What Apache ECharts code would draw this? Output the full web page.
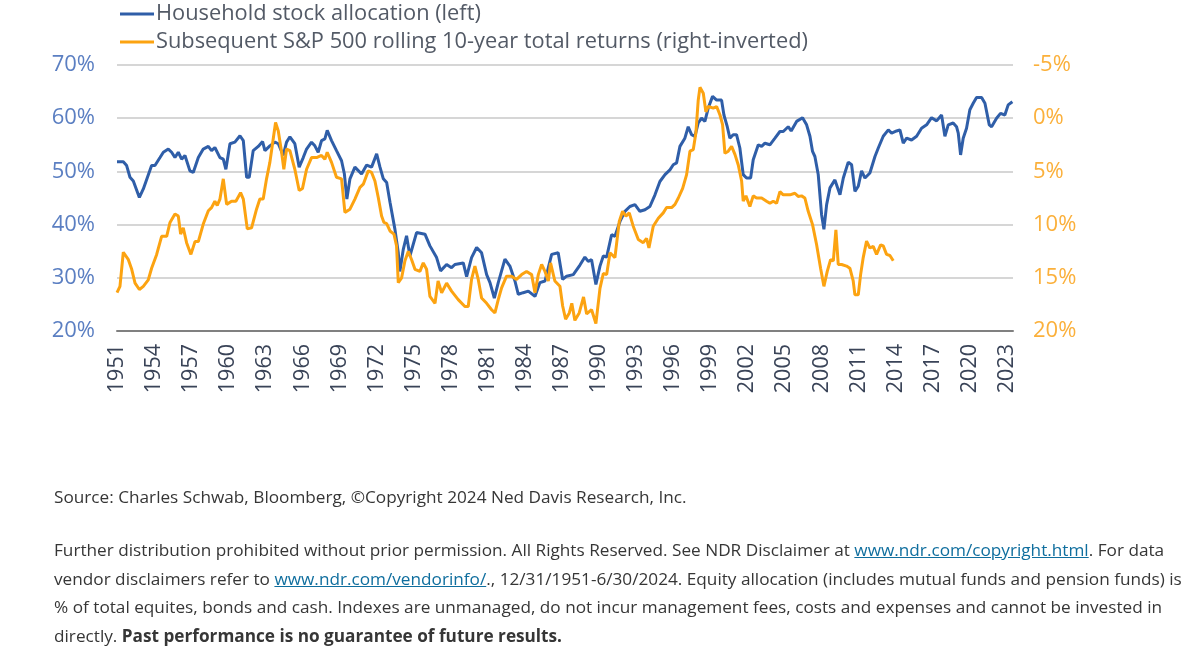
<!DOCTYPE html>
<html>
<head>
<meta charset="utf-8">
<script src="https://cdn.jsdelivr.net/npm/echarts@6/dist/echarts.min.js"></script>
<style>
  html, body { margin: 0; padding: 0; background: #ffffff; }
  #chart { position: absolute; left: 0; top: 0; width: 1189px; height: 652px; }
  .foot { position: absolute; left: 54px; font-family: "Open Sans", sans-serif; font-size: 17.2px; color: #363636; line-height: 28.5px; white-space: nowrap; }
  .foot a { color: #0f6e9e; text-decoration: underline; }
</style>
</head>
<body>
<div id="chart"></div>
<div class="foot" style="top:483px;">Source: Charles Schwab, Bloomberg, ©Copyright 2024 Ned Davis Research, Inc.</div>
<div class="foot" style="top:536px;">Further distribution prohibited without prior permission. All Rights Reserved. See NDR Disclaimer at <a>www.ndr.com/copyright.html</a>. For data<br>vendor disclaimers refer to <a>www.ndr.com/vendorinfo/</a>., 12/31/1951-6/30/2024. Equity allocation (includes mutual funds and pension funds) is<br>% of total equites, bonds and cash. Indexes are unmanaged, do not incur management fees, costs and expenses and cannot be invested in<br>directly. <b>Past performance is no guarantee of future results.</b></div>
<script>
// Household stock allocation (left axis, %)
const blueYears = [1951.0,1951.51,1951.78,1952.05,1952.32,1952.81,1953.13,1953.8,1954.07,1954.48,1954.75,1955.15,1955.42,1955.69,1955.96,1956.23,1956.5,1956.9,1957.17,1957.58,1957.98,1958.39,1958.65,1958.92,1959.33,1959.6,1959.81,1960.14,1960.54,1960.95,1961.22,1961.49,1961.7,1962.02,1962.43,1962.78,1962.97,1963.37,1963.78,1964.05,1964.45,1964.72,1964.99,1965.39,1965.74,1966.07,1966.34,1966.74,1967.01,1967.28,1967.55,1967.82,1968.01,1968.36,1968.76,1969.17,1969.4,1969.6,1969.85,1970.25,1970.79,1971.2,1971.6,1972.01,1972.28,1972.55,1972.82,1973.09,1973.49,1973.76,1973.89,1974.16,1974.43,1974.7,1975.24,1975.92,1976.32,1976.86,1977.18,1977.67,1978.07,1978.34,1979.02,1979.29,1979.69,1980.1,1980.5,1980.91,1981.18,1981.53,1981.85,1982.39,1982.79,1983.2,1983.47,1983.87,1984.28,1984.82,1985.22,1985.63,1986.17,1986.7,1987.06,1987.38,1987.92,1988.46,1988.86,1989.13,1989.4,1989.75,1990.08,1990.35,1990.62,1991.02,1991.29,1991.7,1992.1,1992.5,1992.91,1993.31,1993.72,1994.12,1994.53,1994.93,1995.34,1995.74,1996.01,1996.28,1996.55,1996.95,1997.22,1997.49,1997.76,1998.03,1998.3,1998.57,1998.84,1999.19,1999.52,1999.92,2000.11,2000.38,2000.59,2000.86,2001.13,2001.4,2001.67,2001.94,2002.27,2002.48,2002.89,2003.16,2003.43,2003.83,2004.24,2004.64,2004.91,2005.31,2005.55,2005.99,2006.47,2006.8,2007.07,2007.28,2007.47,2007.74,2008.01,2008.2,2008.42,2008.69,2009.09,2009.5,2009.77,2010.17,2010.44,2010.71,2010.98,2011.25,2011.52,2011.92,2012.33,2012.6,2013.0,2013.41,2013.68,2014.08,2014.35,2014.62,2014.89,2015.29,2015.7,2016.1,2016.51,2016.91,2017.32,2017.72,2017.99,2018.26,2018.66,2018.93,2019.07,2019.26,2019.47,2019.74,2020.01,2020.28,2020.55,2020.96,2021.23,2021.58,2021.77,2022.17,2022.49,2022.84,2023.11,2023.45];
const blueVals = [51.8,51.8,51.1,48.9,48.2,45.1,46.7,51.1,51.1,52.6,53.6,54.2,53.6,52.6,53.6,52.3,53.0,50.1,49.8,52.6,54.2,54.7,53.9,54.5,52.6,52.3,50.4,55.2,55.5,56.7,55.8,48.9,48.9,53.9,54.7,55.6,53.9,54.8,55.5,55.2,53.0,55.5,56.5,55.2,50.8,52.6,54.2,55.5,54.8,53.6,55.8,56.1,57.7,55.8,53.9,52.0,49.5,44.8,48.6,50.8,49.5,51.2,50.8,53.3,50.8,48.6,47.9,44.2,39.1,34.7,31.2,35.3,37.9,34.1,38.5,38.2,36.0,33.8,31.3,32.5,31.9,32.5,32.8,30.2,33.8,35.7,34.7,30.6,29.1,26.2,29.1,33.5,32.2,29.4,26.9,27.2,27.5,26.5,29.1,29.4,34.4,34.7,29.7,30.3,30.6,32.4,33.9,33.1,33.4,28.75,32.2,34.1,33.9,38.1,37.8,40.6,42.5,43.4,43.75,42.5,42.8,43.4,45.6,48.1,49.4,50.3,51.25,51.6,54.7,56.25,58.4,56.9,56.6,59.1,60.0,59.4,61.9,64.1,63.4,63.4,60.6,58.4,56.25,56.9,56.9,54.4,49.4,48.75,48.75,52.2,55.0,54.7,55.3,55.0,56.25,57.5,57.5,58.4,57.6,59.4,60.1,58.75,56.6,53.75,52.8,49.4,41.9,39.1,43.75,46.9,48.4,45.6,48.75,51.75,51.25,46.25,47.2,50.1,48.75,49.7,52.8,54.4,56.6,57.8,57.2,57.6,57.8,55.3,56.25,55.9,56.6,58.1,58.75,60.1,59.5,60.6,56.6,58.75,59.1,58.4,57.2,53.1,56.25,58.1,61.6,62.8,63.9,63.9,62.8,58.75,58.4,60.0,60.9,60.6,62.5,63.1];

// Subsequent S&P 500 rolling 10-year total returns (right axis, inverted, %)
const orangeYears = [1951.0,1951.24,1951.51,1951.92,1952.19,1952.46,1952.81,1953.13,1953.53,1953.8,1954.21,1954.61,1955.02,1955.29,1955.69,1955.96,1956.15,1956.36,1956.63,1956.98,1957.31,1957.58,1957.98,1958.39,1958.65,1958.92,1959.11,1959.33,1959.6,1959.87,1960.27,1960.62,1961.0,1961.22,1961.54,1961.89,1962.29,1962.56,1962.83,1963.1,1963.37,1963.64,1963.83,1964.05,1964.32,1964.5,1964.72,1964.99,1965.39,1965.74,1966.01,1966.34,1966.74,1967.15,1967.55,1967.82,1968.01,1968.36,1968.76,1969.17,1969.44,1969.85,1970.25,1970.66,1970.93,1971.33,1971.6,1971.87,1972.14,1972.41,1972.6,1972.82,1973.09,1973.41,1973.62,1973.76,1974.03,1974.3,1974.57,1974.84,1975.11,1975.51,1975.78,1976.05,1976.32,1976.73,1976.98,1977.27,1977.67,1978.07,1978.61,1979.15,1979.42,1979.69,1979.96,1980.23,1980.5,1980.91,1981.31,1981.58,1981.85,1982.12,1982.52,1982.93,1983.33,1983.74,1984.14,1984.55,1984.82,1985.09,1985.36,1985.63,1985.9,1986.08,1986.43,1986.84,1987.06,1987.3,1987.6,1987.8,1988.05,1988.4,1988.75,1989.0,1989.4,1989.75,1990.08,1990.35,1990.62,1990.89,1991.29,1991.64,1991.91,1992.18,1992.45,1992.77,1993.18,1993.58,1993.85,1994.04,1994.39,1994.8,1995.2,1995.47,1995.88,1996.15,1996.42,1996.77,1997.09,1997.36,1997.63,1997.84,1998.03,1998.17,1998.44,1998.65,1998.84,1999.25,1999.52,1999.79,2000.0,2000.19,2000.46,2000.73,2001.0,2001.27,2001.54,2001.67,2001.89,2002.21,2002.48,2002.75,2003.16,2003.56,2003.83,2004.1,2004.37,2004.64,2004.91,2005.45,2005.85,2006.12,2006.39,2006.66,2006.93,2007.28,2007.61,2007.93,2008.2,2008.47,2008.74,2008.96,2009.17,2009.36,2009.63,2010.03,2010.3,2010.57,2010.71,2010.98,2011.17,2011.38,2011.65,2011.92,2012.19,2012.46,2012.79,2013.0,2013.27,2013.54,2013.81];
const orangeVals = [16.4,15.8,12.6,13.3,14.2,15.5,16.1,15.8,15.2,14.1,12.8,11.1,11.1,9.8,9.0,9.2,10.9,10.3,11.7,12.8,11.6,11.6,9.95,8.7,8.4,7.8,8.2,7.6,5.7,8.1,7.8,7.8,7.0,7.6,10.4,10.3,8.55,7.6,7.6,5.7,4.15,1.95,0.4,1.2,3.2,4.8,2.9,3.05,4.8,6.8,6.6,4.8,3.7,3.7,3.5,3.85,3.2,4.15,5.55,5.7,8.85,8.55,7.6,6.5,6.2,4.95,5.1,5.9,7.45,9.2,9.8,9.9,10.6,10.9,12.0,15.45,15.0,13.4,12.5,13.3,14.2,14.4,13.6,14.2,16.75,17.4,15.3,16.4,15.5,16.25,17.05,17.7,17.7,15.15,13.9,15.15,16.9,17.4,18.0,18.3,17.05,15.95,14.85,14.85,15.15,14.7,14.4,14.7,16.4,14.7,13.75,14.4,15.3,13.6,15.3,15.8,17.65,18.9,18.3,17.4,19.0,18.3,16.8,18.4,18.0,19.3,16.0,14.6,14.7,12.65,13.1,9.7,8.75,9.2,8.9,10.15,11.4,11.7,11.3,12.2,10.15,9.4,8.9,8.4,8.4,8.1,7.5,6.6,5.3,3.1,2.95,1.4,-1.7,-2.9,-2.35,-0.6,-1.1,-0.95,-1.1,-0.3,0.6,3.3,3.1,2.65,3.4,4.4,5.9,7.8,7.3,8.3,7.3,7.5,7.5,7.8,8.0,7.8,8.0,6.9,7.2,7.2,7.05,7.35,7.3,7.5,8.75,10.0,11.9,14.1,15.8,14.4,13.3,13.4,10.5,13.75,13.75,13.9,14.1,15.3,16.6,16.6,14.7,13.1,11.55,12.2,12.05,12.8,11.9,12.0,12.8,12.9,13.4];

const seriesNames = ['Household stock allocation (left)', 'Subsequent S&P 500 rolling 10-year total returns (right-inverted)'];
const xTickYears = [1951,1954,1957,1960,1963,1966,1969,1972,1975,1978,1981,1984,1987,1990,1993,1996,1999,2002,2005,2008,2011,2014,2017,2020,2023];

const FONT = '"Open Sans", "Liberation Sans", sans-serif';
const chart = echarts.init(document.getElementById('chart'), null, { renderer: 'canvas' });
chart.setOption({
  animation: false,
  backgroundColor: '#ffffff',
  textStyle: { fontFamily: FONT },
  legend: {
    orient: 'vertical', left: 120, top: 2, padding: 0,
    icon: 'rect', itemWidth: 34, itemHeight: 3, itemGap: 4,
    textStyle: { fontSize: 21.8, color: '#535a66', lineHeight: 24, fontFamily: FONT, padding: [0, 0, 0, -3] },
    data: seriesNames
  },
  grid: { left: 117, right: 176, top: 65, bottom: 321, containLabel: false },
  xAxis: {
    type: 'value', min: 1951, max: 2023.5, interval: 3,
    axisLine: { show: true, onZero: false, lineStyle: { color: '#808080', width: 2 } },
    axisTick: { show: false },
    splitLine: { show: false },
    axisLabel: {
      rotate: 90, margin: 13, fontSize: 21.5, color: '#3a4458', fontFamily: FONT,
      showMaxLabel: false,
      formatter: v => xTickYears.includes(v) ? String(v) : ''
    }
  },
  yAxis: [
    {
      type: 'value', min: 20, max: 70, interval: 10, position: 'left',
      axisLine: { show: false }, axisTick: { show: false },
      splitLine: { show: true, lineStyle: { color: '#d6d6d6', width: 2 } },
      axisLabel: { formatter: '{value}%', fontSize: 22, color: '#5b7fc2', margin: 22, fontFamily: FONT }
    },
    {
      type: 'value', min: -5, max: 20, interval: 5, inverse: true, position: 'right',
      axisLine: { show: false }, axisTick: { show: false },
      splitLine: { show: false },
      axisLabel: { formatter: '{value}%', fontSize: 22, color: '#fbb03b', margin: 20, fontFamily: FONT }
    }
  ],
  series: [
    {
      name: seriesNames[0], type: 'line', yAxisIndex: 0, showSymbol: false, symbol: 'none',
      lineStyle: { color: '#2f5ea8', width: 3 }, itemStyle: { color: '#2f5ea8' },
      data: blueYears.map((y, i) => [y, blueVals[i]])
    },
    {
      name: seriesNames[1], type: 'line', yAxisIndex: 1, showSymbol: false, symbol: 'none',
      lineStyle: { color: '#fca311', width: 3 }, itemStyle: { color: '#fca311' },
      data: orangeYears.map((y, i) => [y, orangeVals[i]])
    }
  ]
});
</script>
</body>
</html>
